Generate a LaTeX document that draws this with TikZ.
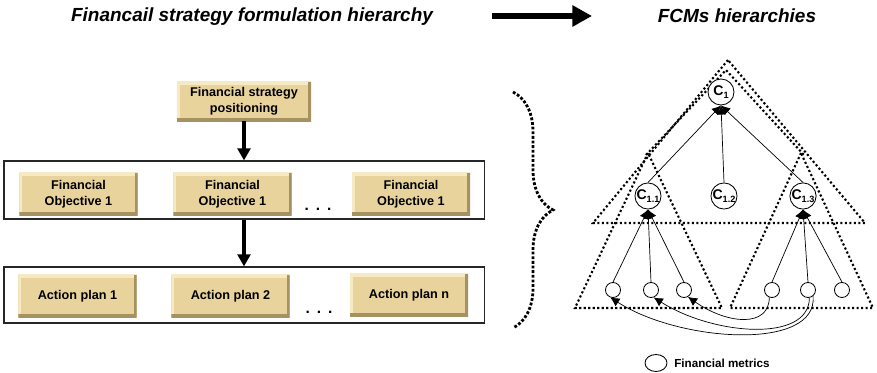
\documentclass[tikz,border=0pt]{standalone}
\usepackage{fontspec}
\setmainfont{Liberation Sans}
\usetikzlibrary{arrows.meta,decorations.pathreplacing,shapes.geometric}
\definecolor{tanfill}{RGB}{232,211,157}
\definecolor{tanlight}{RGB}{246,234,196}
\definecolor{tandark}{RGB}{165,145,98}
\newcommand{\fcmsub}[1]{\raisebox{-0.4ex}{\fontsize{6.5}{7}\selectfont #1}}
\newcommand{\hdots}{\textbf{.}\hspace{5pt}\textbf{.}\hspace{5pt}\textbf{.}}
\begin{document}
\begin{tikzpicture}[>=Latex, x=0.025cm, y=-0.025cm]
        \tikzset{tanbox/.style={fill=tanfill, minimum width=2.95cm, minimum height=1.05cm, align=center, inner sep=1pt,
                font=\fontsize{9}{11.4}\selectfont\bfseries,
                path picture={
                    \draw[tanlight, line width=3.6pt] (path picture bounding box.south west) -- (path picture bounding box.north west) -- (path picture bounding box.north east);
                    \draw[tandark, line width=3.6pt] (path picture bounding box.south west) -- (path picture bounding box.south east) -- (path picture bounding box.north east);}},
            framebox/.style={draw=black!85, line width=0.8pt, minimum width=12cm},
            headtitle/.style={font=\fontsize{13.5}{16}\selectfont\bfseries\itshape},
            fcm/.style={circle, draw, line width=0.6pt, minimum size=0.65cm, inner sep=0pt, font=\fontsize{10}{10}\selectfont\bfseries},
            metric/.style={circle, draw, line width=0.6pt, minimum size=0.375cm, inner sep=0pt},
            dotline/.style={line width=1.5pt, dash pattern=on 1.5pt off 1.7pt},
            flowarrow/.style={-{Triangle[length=8.5pt, width=9pt]}, line width=2.2pt},
            link/.style={-{Latex[length=6.5pt, width=6.5pt]}, line width=0.5pt}}
        \useasboundingbox (0,0) rectangle (877,373);

        \node[headtitle] (lhead) at (252,17) {Financail strategy formulation hierarchy};
        \node[headtitle] (rhead) at (737,16) {FCMs hierarchies};
        \coordinate (arrS) at (492,16);
        \coordinate (arrE) at (592,16);
        \draw[-{Triangle[length=14pt, width=14.5pt]}, line width=4.2pt] (arrS) -- (arrE);

        \node[tanbox, minimum width=3.35cm, minimum height=0.975cm] (pos) at (244,101.5) {Financial strategy\\positioning};
        \node[framebox, minimum height=1.45cm] (obj) at (244,190) {};
        \node[framebox, minimum height=1.4cm] (act) at (244,295) {};
        \node[tanbox] (o1) at (78.5,194) {Financial\\Objective 1};
        \node[tanbox] (o2) at (232.5,194) {Financial\\Objective 1};
        \node[tanbox] (o3) at (411,194) {Financial\\Objective 1};
        \node[font=\fontsize{11}{12}\selectfont] (odots) at (318,209) {\hdots};
        \node[tanbox] (a1) at (77.5,296) {Action plan 1};
        \node[tanbox] (a2) at (230.5,296) {Action plan 2};
        \node[tanbox] (a3) at (409,295) {Action plan n};
        \node[font=\fontsize{11}{12}\selectfont] (adots) at (319,312) {\hdots};
        \draw[flowarrow] (pos) -- (obj);
        \draw[flowarrow] (obj) -- (act);

        \draw[decorate, decoration={brace, amplitude=1cm}, line width=2pt, dash pattern=on 2pt off 1.3pt] (513,92) -- (513,328);

        \draw[dotline] (728,60) -- (593,223) -- (865,223) -- cycle;
        \draw[dotline] (646,155) -- (726,70) -- (804,155);
        \draw[dotline] (648,153) -- (575,308) -- (722,308) -- cycle;
        \draw[dotline] (801,153) -- (730,308) -- (873,308) -- cycle;

        \node[fcm, fill=white] (c1) at (721,92) {C\fcmsub{1}};
        \node[fcm, fill=white] (c11) at (648,196) {C\fcmsub{1.1}};
        \node[fcm] (c12) at (724,196) {C\fcmsub{1.2}};
        \node[fcm, fill=white] (c13) at (803,196) {C\fcmsub{1.3}};
        \foreach \x [count=\i] in {613,651,684,772,808,842}
            \node[metric] (m\i) at (\x,290) {};

        \foreach \c in {c11,c12,c13}
            \draw[link] (\c.north) -- (c1.south);
        \foreach \m in {m1,m2,m3}
            \draw[link] (\m.north) -- (c11.south);
        \foreach \m in {m4,m5,m6}
            \draw[link] (\m.north) -- (c13.south);
        \draw[link] (m4.-110) .. controls +(0,30) and +(40,28) .. (m3.-60);
        \draw[link] (m5.-80) .. controls +(0,45) and +(60,38) .. (m2.-70);
        \draw[link] (m5.-50) .. controls +(5,55) and +(70,45) .. (m1.-110);

        \node[ellipse, draw, line width=0.6pt, minimum width=0.55cm, minimum height=0.425cm, inner sep=0pt] (lgm) at (656,363) {};
        \node[anchor=west, inner sep=0pt, font=\fontsize{8.3}{10}\selectfont\bfseries] (lgt) at (674,363) {Financial metrics};
    \end{tikzpicture}
\end{document}
